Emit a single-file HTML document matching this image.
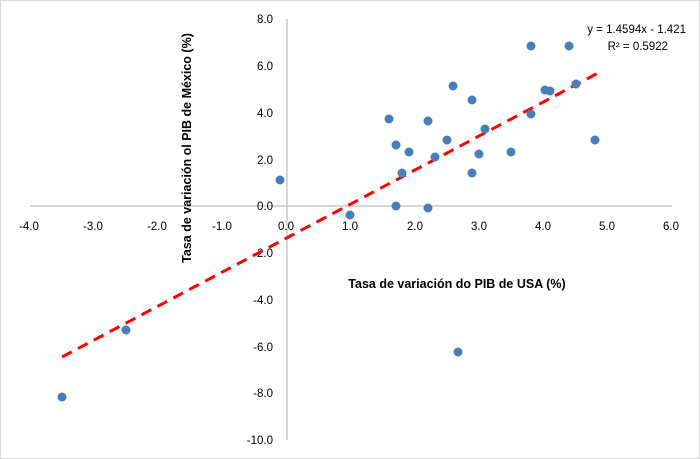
<!DOCTYPE html>
<html><head><meta charset="utf-8"><style>
html,body{margin:0;padding:0;background:#fff}
svg{display:block}
text{font-family:"Liberation Sans",sans-serif;fill:#000}
</style></head><body>
<svg width="700" height="459" viewBox="0 0 700 459">
<rect x="0.5" y="0.5" width="699" height="458" fill="#fff" stroke="#d9d9d9"/>
<line x1="30" y1="206" x2="672" y2="206" stroke="#bfbfbf" stroke-width="1.3"/>
<line x1="287" y1="19" x2="287" y2="440" stroke="#bfbfbf" stroke-width="1.3"/>
<g font-size="11.5" text-anchor="end">
<text x="273" y="23">8.0</text>
<text x="273" y="70">6.0</text>
<text x="273" y="117">4.0</text>
<text x="273" y="164">2.0</text>
<text x="273" y="210">0.0</text>
<text x="273" y="257">-2.0</text>
<text x="273" y="304">-4.0</text>
<text x="273" y="351">-6.0</text>
<text x="273" y="397">-8.0</text>
<text x="273" y="444">-10.0</text>
</g>
<g font-size="11.5" text-anchor="middle">
<text x="29" y="230">-4.0</text>
<text x="93" y="230">-3.0</text>
<text x="157" y="230">-2.0</text>
<text x="222" y="230">-1.0</text>
<text x="286" y="230">0.0</text>
<text x="350" y="230">1.0</text>
<text x="415" y="230">2.0</text>
<text x="479" y="230">3.0</text>
<text x="543" y="230">4.0</text>
<text x="607" y="230">5.0</text>
<text x="671" y="230">6.0</text>
</g>
<text transform="translate(191,148) rotate(-90)" font-size="12.5" font-weight="bold" text-anchor="middle">Tasa de variación ol PIB de México (%)</text>
<text x="457" y="288" font-size="12.5" font-weight="bold" text-anchor="middle">Tasa de variación do PIB de USA (%)</text>
<line x1="62" y1="357" x2="598" y2="73" stroke="#ff0000" stroke-width="3" stroke-dasharray="11,7"/>
<g fill="#4a7ebb">
<circle cx="280" cy="180" r="4.5"/><circle cx="350" cy="215" r="4.5"/><circle cx="396" cy="206" r="4.5"/><circle cx="428" cy="208" r="4.5"/>
<circle cx="389" cy="119" r="4.5"/><circle cx="396" cy="145" r="4.5"/><circle cx="402" cy="173" r="4.5"/><circle cx="409" cy="152" r="4.5"/>
<circle cx="428" cy="121" r="4.5"/><circle cx="435" cy="157" r="4.5"/><circle cx="447" cy="140" r="4.5"/><circle cx="453" cy="86" r="4.5"/>
<circle cx="472" cy="100" r="4.5"/><circle cx="472" cy="173" r="4.5"/><circle cx="479" cy="154" r="4.5"/><circle cx="485" cy="129" r="4.5"/>
<circle cx="511" cy="152" r="4.5"/><circle cx="531" cy="114" r="4.5"/><circle cx="531" cy="46" r="4.5"/><circle cx="545" cy="90" r="4.5"/>
<circle cx="550" cy="91" r="4.5"/><circle cx="569" cy="46" r="4.5"/><circle cx="576" cy="84" r="4.5"/><circle cx="595" cy="140" r="4.5"/>
<circle cx="458" cy="352" r="4.5"/><circle cx="126" cy="330" r="4.5"/><circle cx="62" cy="397" r="4.5"/>
</g>
<text x="686" y="33" font-size="11.5" text-anchor="end">y = 1.4594x - 1.421</text>
<text x="668" y="50" font-size="11.5" text-anchor="end">R² = 0.5922</text>
</svg>
</body></html>
